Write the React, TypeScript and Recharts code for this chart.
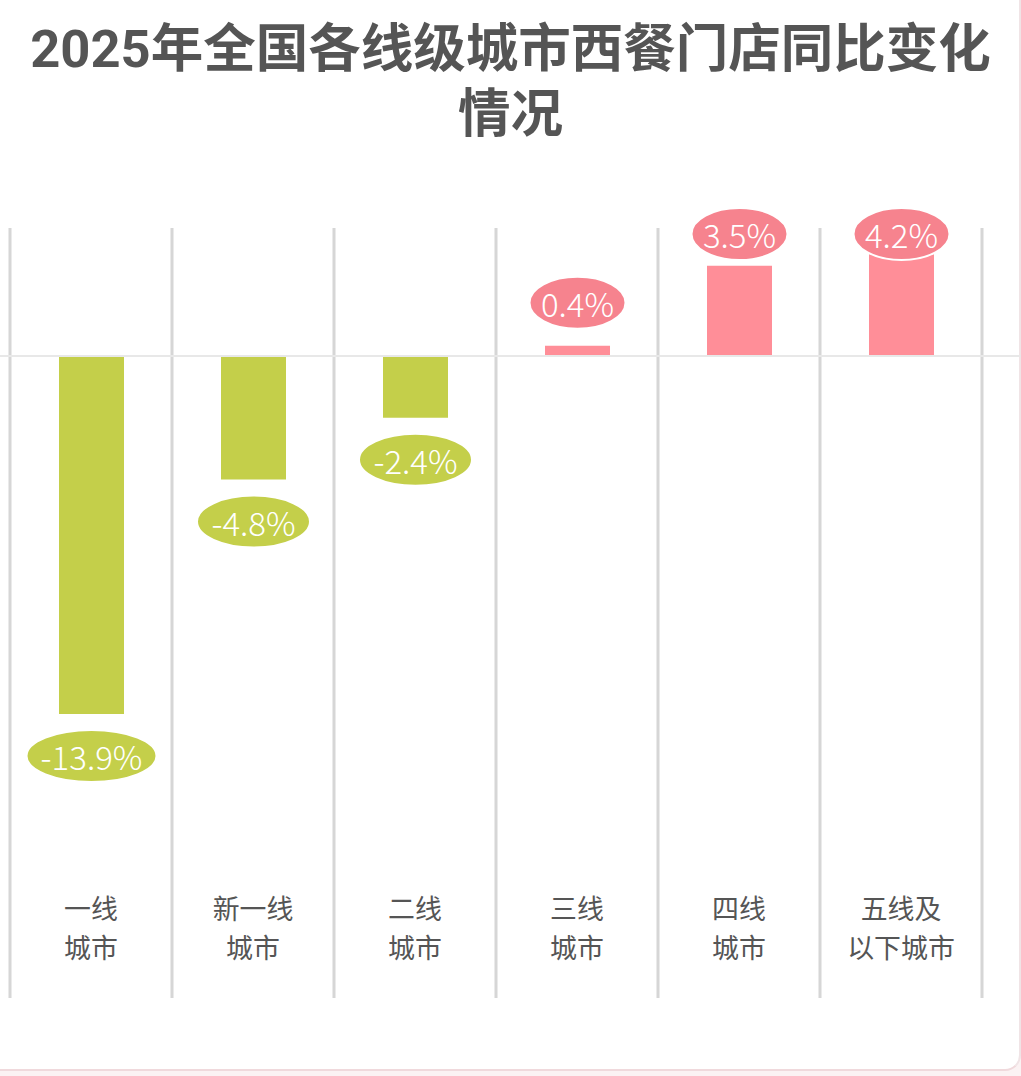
import React from "react";
import { BarChart, Bar, XAxis, YAxis, ReferenceLine, Cell, LabelList } from "recharts";

const title1 = "2025年全国各线级城市西餐门店同比变化";
const title2 = "情况";
const categories = ["一线\n城市", "新一线\n城市", "二线\n城市", "三线\n城市", "四线\n城市", "五线及\n以下城市"];
const values = [-13.9, -4.8, -2.4, 0.4, 3.5, 4.2];

const GREEN = "#c4cf4a";
const PINK = "#ff8e98";
const PINK_LABEL = "#f6838e";
const GRID = "#d6d6d6";

const data = categories.map((name, i) => ({ name, value: values[i] }));

const CatTick = (props: any) => {
  const { x, y, payload } = props;
  const lines = String(payload.value).split("\n");
  return (
    <text
      x={x}
      y={y - 87}
      textAnchor="middle"
      fontSize={26.9}
      fill="#555"
      fontFamily="'Noto Sans CJK SC', sans-serif"
    >
      {lines.map((ln: string, i: number) => (
        <tspan key={i} x={x} dy={i === 0 ? 0 : 39}>
          {ln}
        </tspan>
      ))}
    </text>
  );
};

const ValueLabel = (props: any) => {
  const { x, y, width, height, value } = props;
  const top = Math.min(y, y + height);
  const bottom = Math.max(y, y + height);
  const cx = x + width / 2;
  const neg = value < 0;
  const cy = neg ? bottom + 42 : Math.max(top - 43, 234);
  const text = `${value}%`;
  const rx = (17 * text.length + 28) / 2;
  return (
    <g>
      <ellipse cx={cx} cy={cy} rx={rx} ry={26} fill={neg ? GREEN : PINK_LABEL} stroke="#fff" strokeWidth={2} />
      <text
        x={cx}
        y={cy}
        textAnchor="middle"
        dominantBaseline="central"
        fontSize={33}
        fontWeight={300}
        fill="#fff"
        fontFamily="'Noto Sans CJK SC', sans-serif"
      >
        {text}
      </text>
    </g>
  );
};

export default function App() {
  return (
    <div style={{ position: "absolute", left: 0, top: 0, width: 1021, height: 1076, background: "#fbf2f3" }}>
      <div
        style={{
          position: "absolute",
          left: 0,
          top: 0,
          width: 1019,
          height: 1069,
          background: "#fff",
          borderBottom: "2px solid #f0d9dc",
          borderRight: "2px solid #f0e4e6",
          borderBottomRightRadius: 16,
        }}
      />
      <div
        style={{
          position: "absolute",
          left: 0,
          top: 17,
          width: 1021,
          textAlign: "center",
          fontFamily: "Roboto, 'Noto Sans CJK SC', sans-serif",
          fontWeight: 700,
          fontSize: 52.5,
          lineHeight: "65px",
          color: "#555",
        }}
      >
        <div>{title1}</div>
        <div>{title2}</div>
      </div>
      <div style={{ position: "absolute", left: 0, top: 0 }}>
        <BarChart width={1021} height={1076} data={data} margin={{ top: 228, right: 0, bottom: 48, left: 0 }}>
          <XAxis
            dataKey="name"
            padding={{ left: 10, right: 39 }}
            axisLine={false}
            tickLine={false}
            interval={0}
            height={30}
            tick={<CatTick />}
          />
          <YAxis hide domain={[-24.93, 4.97]} allowDataOverflow />
          {categories.map((c) => (
            <ReferenceLine key={c} x={c} position="start" stroke={GRID} strokeWidth={3} />
          ))}
          <ReferenceLine x={categories[categories.length - 1]} position="end" stroke={GRID} strokeWidth={3} />
          <ReferenceLine y={0} stroke="#e8e8e8" strokeWidth={2} />
          <Bar dataKey="value" barSize={65} isAnimationActive={false}>
            {data.map((d, i) => (
              <Cell key={i} fill={d.value < 0 ? GREEN : PINK} />
            ))}
            <LabelList dataKey="value" content={<ValueLabel />} />
          </Bar>
        </BarChart>
      </div>
    </div>
  );
}
